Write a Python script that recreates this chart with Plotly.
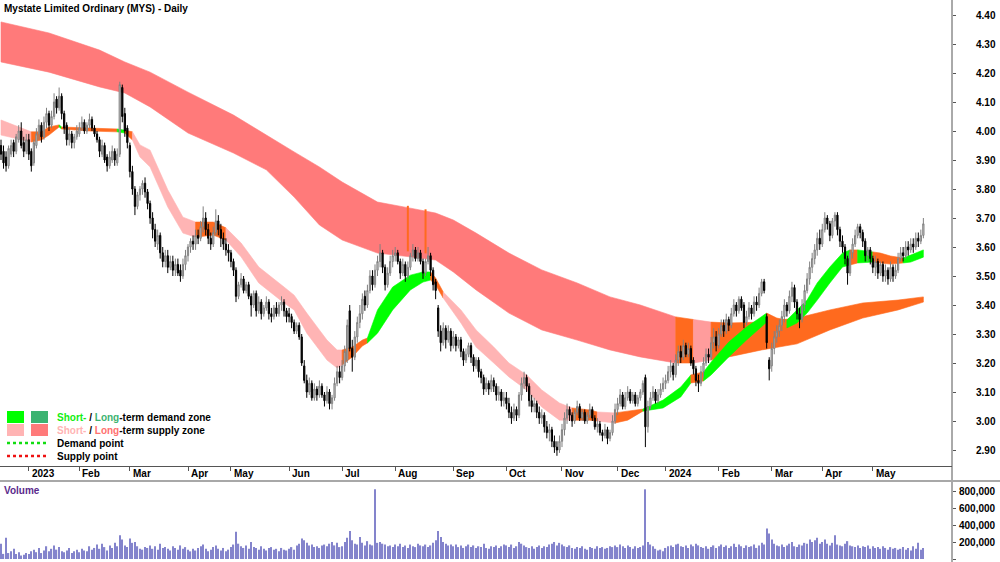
import numpy as np
import pandas as pd
import plotly.graph_objects as go

# ---------------- data ----------------
FIRST_DAY = "2022-12-14"
LAST_DAY = "2024-05-29"
HOLIDAYS = ["2022-12-26", "2022-12-27", "2023-01-02", "2023-01-26", "2023-04-07",
            "2023-04-10", "2023-04-25", "2023-06-12", "2023-12-25", "2023-12-26",
            "2024-01-01", "2024-01-26", "2024-03-29", "2024-04-01", "2024-04-25"]

OPEN = [
    3.95, 3.93, 3.91, 3.88, 3.92, 3.96, 3.93, 3.97, 4.00, 3.96, 3.93,
    3.97, 3.93, 3.89, 3.95, 3.99, 4.02, 3.98, 4.03, 4.06, 4.02, 4.05, 4.11, 4.08, 4.12, 4.06, 4.02, 3.97, 3.99, 3.96, 3.98,
    3.99, 4.01, 4.03, 4.00, 4.02, 4.04, 4.01, 3.99, 3.97, 3.92, 3.95, 3.91, 3.88, 3.90, 3.93, 3.89, 3.92, 4.15, 4.06, 4.01,
    3.95, 3.86, 3.80, 3.74, 3.78, 3.80, 3.82, 3.79, 3.75, 3.70, 3.66, 3.61, 3.64, 3.58, 3.55, 3.57, 3.53, 3.55, 3.52, 3.54, 3.52, 3.50, 3.54,
    3.57, 3.60, 3.62, 3.61, 3.64, 3.63, 3.67, 3.70, 3.66, 3.63, 3.61, 3.65, 3.69, 3.66, 3.63, 3.61, 3.59,
    3.58, 3.55, 3.52, 3.43, 3.47, 3.49, 3.45, 3.47, 3.43, 3.40, 3.44, 3.38, 3.41, 3.37, 3.39, 3.41, 3.37, 3.36, 3.39, 3.37, 3.40, 3.41, 3.38,
    3.37, 3.36, 3.34, 3.31, 3.33, 3.29, 3.19, 3.14, 3.10, 3.13, 3.08, 3.11, 3.09, 3.12, 3.09, 3.07, 3.10, 3.06, 3.08, 3.13, 3.17,
    3.15, 3.19, 3.21, 3.38, 3.25, 3.22, 3.29, 3.34, 3.37, 3.43, 3.40, 3.45, 3.50, 3.47, 3.52, 3.55, 3.58, 3.53, 3.47, 3.51, 3.55,
    3.57, 3.58, 3.55, 3.51, 3.54, 3.50, 3.53, 3.57, 3.59, 3.56, 3.58, 3.55, 3.51, 3.55, 3.57, 3.52, 3.48, 3.39, 3.31, 3.27, 3.32, 3.28, 3.31,
    3.26, 3.29, 3.26, 3.28, 3.24, 3.21, 3.23, 3.26, 3.22, 3.19, 3.21, 3.17, 3.15, 3.11, 3.13, 3.11, 3.14, 3.12, 3.09, 3.10, 3.07,
    3.08, 3.06, 3.03, 3.01, 3.04, 3.02, 3.09, 3.13, 3.15, 3.12, 3.07, 3.05, 3.06, 3.03, 3.01, 3.02, 2.98, 2.96, 2.97, 2.93, 2.91, 2.90,
    2.93, 2.97, 3.01, 3.04, 3.02, 3.00, 3.03, 3.05, 3.01, 3.03, 3.00, 3.02, 3.04, 3.01, 2.98, 2.99, 2.96, 2.95, 2.97, 2.94, 2.96, 3.00,
    3.04, 3.06, 3.09, 3.05, 3.08, 3.10, 3.07, 3.09, 3.06, 3.08, 3.10, 3.15, 2.98, 3.05, 3.08, 3.10, 3.07, 3.09, 3.11,
    3.13, 3.14, 3.17, 3.19, 3.16, 3.21, 3.24, 3.22, 3.26, 3.23, 3.25, 3.21, 3.18, 3.14, 3.13, 3.17, 3.20, 3.23, 3.22, 3.27, 3.29,
    3.26, 3.30, 3.33, 3.31, 3.35, 3.33, 3.37, 3.40, 3.38, 3.42, 3.40, 3.34, 3.36, 3.39, 3.37, 3.41, 3.40, 3.44, 3.48, 3.36, 3.21,
    3.19, 3.25, 3.29, 3.31, 3.33, 3.36, 3.40, 3.38, 3.43, 3.46, 3.41, 3.37, 3.35, 3.40, 3.45, 3.49, 3.53, 3.56, 3.59, 3.63,
    3.61, 3.66, 3.70, 3.68, 3.64, 3.69, 3.71, 3.66, 3.62, 3.60, 3.56, 3.51, 3.58, 3.61, 3.64, 3.67, 3.65, 3.62, 3.57, 3.59,
    3.56, 3.53, 3.55, 3.51, 3.54, 3.50, 3.52, 3.49, 3.53, 3.50, 3.52, 3.56, 3.58, 3.57, 3.60, 3.59, 3.61, 3.60, 3.63, 3.62, 3.64,
]
HIGH = [
    3.97, 3.95, 3.93, 3.95, 3.97, 3.97, 3.99, 4.02, 4.03, 3.98, 3.99,
    3.99, 3.94, 3.97, 4.01, 4.04, 4.03, 4.05, 4.08, 4.07, 4.07, 4.13, 4.12, 4.15, 4.13, 4.07, 4.03, 4.01, 4.00, 3.99, 4.02,
    4.03, 4.05, 4.04, 4.03, 4.06, 4.05, 4.02, 4.00, 3.98, 3.97, 3.96, 3.92, 3.93, 3.95, 3.94, 3.94, 4.17, 4.16, 4.08, 4.02,
    3.96, 3.88, 3.81, 3.79, 3.81, 3.83, 3.84, 3.80, 3.76, 3.72, 3.68, 3.66, 3.65, 3.60, 3.59, 3.59, 3.57, 3.57, 3.56, 3.56, 3.54, 3.56, 3.59,
    3.61, 3.63, 3.64, 3.66, 3.66, 3.69, 3.74, 3.72, 3.68, 3.65, 3.67, 3.73, 3.71, 3.68, 3.65, 3.63, 3.61,
    3.59, 3.56, 3.53, 3.48, 3.51, 3.50, 3.48, 3.48, 3.44, 3.45, 3.45, 3.43, 3.42, 3.40, 3.43, 3.42, 3.39, 3.40, 3.41, 3.41, 3.43, 3.42, 3.39,
    3.39, 3.37, 3.35, 3.34, 3.34, 3.30, 3.21, 3.16, 3.15, 3.14, 3.13, 3.12, 3.14, 3.13, 3.10, 3.12, 3.11, 3.09, 3.15, 3.19, 3.19,
    3.21, 3.26, 3.35, 3.40, 3.28, 3.31, 3.36, 3.40, 3.44, 3.45, 3.47, 3.52, 3.52, 3.54, 3.57, 3.61, 3.59, 3.54, 3.53, 3.57, 3.59,
    3.60, 3.59, 3.56, 3.56, 3.55, 3.55, 3.58, 3.61, 3.60, 3.60, 3.59, 3.56, 3.56, 3.60, 3.58, 3.53, 3.49, 3.40, 3.33, 3.34, 3.33, 3.33, 3.32,
    3.31, 3.30, 3.29, 3.29, 3.25, 3.25, 3.27, 3.27, 3.23, 3.22, 3.22, 3.18, 3.16, 3.15, 3.14, 3.16, 3.15, 3.13, 3.12, 3.11, 3.10,
    3.10, 3.08, 3.05, 3.06, 3.05, 3.10, 3.15, 3.17, 3.16, 3.13, 3.09, 3.08, 3.07, 3.05, 3.04, 3.03, 3.00, 2.99, 2.98, 2.95, 2.93, 2.95,
    2.99, 3.03, 3.06, 3.05, 3.03, 3.04, 3.07, 3.06, 3.04, 3.04, 3.03, 3.06, 3.05, 3.02, 3.01, 3.00, 2.97, 2.99, 2.98, 2.97, 3.02, 3.06,
    3.08, 3.11, 3.10, 3.10, 3.12, 3.11, 3.10, 3.10, 3.09, 3.11, 3.14, 3.16, 3.07, 3.10, 3.12, 3.11, 3.11, 3.13, 3.15,
    3.16, 3.19, 3.21, 3.20, 3.23, 3.26, 3.26, 3.28, 3.27, 3.27, 3.26, 3.22, 3.19, 3.16, 3.19, 3.22, 3.25, 3.25, 3.29, 3.32, 3.31,
    3.32, 3.35, 3.35, 3.37, 3.36, 3.39, 3.42, 3.41, 3.43, 3.43, 3.41, 3.38, 3.41, 3.40, 3.43, 3.43, 3.46, 3.49, 3.49, 3.37, 3.22,
    3.27, 3.31, 3.33, 3.35, 3.38, 3.42, 3.41, 3.45, 3.48, 3.47, 3.42, 3.39, 3.42, 3.47, 3.51, 3.55, 3.58, 3.61, 3.65, 3.66,
    3.68, 3.72, 3.71, 3.69, 3.70, 3.72, 3.72, 3.67, 3.64, 3.61, 3.57, 3.59, 3.63, 3.66, 3.68, 3.68, 3.66, 3.63, 3.60, 3.60,
    3.57, 3.57, 3.56, 3.55, 3.55, 3.54, 3.53, 3.55, 3.54, 3.54, 3.58, 3.60, 3.60, 3.62, 3.62, 3.63, 3.63, 3.65, 3.65, 3.66, 3.70,
]
LOW = [
    3.90, 3.87, 3.86, 3.87, 3.91, 3.91, 3.92, 3.96, 3.94, 3.91, 3.92,
    3.90, 3.86, 3.88, 3.94, 3.97, 3.96, 3.97, 4.01, 4.00, 4.01, 4.04, 4.06, 4.07, 4.04, 3.99, 3.95, 3.95, 3.94, 3.94, 3.97,
    3.98, 4.00, 3.99, 3.99, 4.01, 4.00, 3.98, 3.96, 3.91, 3.91, 3.89, 3.86, 3.87, 3.89, 3.88, 3.88, 3.91, 4.03, 3.98, 3.94,
    3.84, 3.78, 3.71, 3.73, 3.76, 3.78, 3.77, 3.73, 3.68, 3.63, 3.60, 3.59, 3.56, 3.53, 3.53, 3.51, 3.52, 3.50, 3.50, 3.50, 3.48, 3.49, 3.52,
    3.55, 3.58, 3.59, 3.59, 3.61, 3.62, 3.65, 3.64, 3.61, 3.59, 3.60, 3.64, 3.64, 3.60, 3.59, 3.57, 3.55,
    3.53, 3.50, 3.41, 3.42, 3.46, 3.44, 3.44, 3.42, 3.36, 3.39, 3.36, 3.37, 3.35, 3.36, 3.38, 3.35, 3.34, 3.35, 3.36, 3.36, 3.38, 3.36, 3.34,
    3.34, 3.32, 3.30, 3.30, 3.28, 3.19, 3.13, 3.08, 3.09, 3.07, 3.07, 3.07, 3.08, 3.08, 3.05, 3.06, 3.04, 3.04, 3.07, 3.12, 3.13,
    3.14, 3.17, 3.20, 3.24, 3.17, 3.21, 3.27, 3.32, 3.35, 3.38, 3.39, 3.44, 3.45, 3.46, 3.50, 3.53, 3.51, 3.45, 3.46, 3.50, 3.53,
    3.55, 3.54, 3.49, 3.50, 3.48, 3.49, 3.52, 3.55, 3.55, 3.55, 3.54, 3.49, 3.50, 3.54, 3.50, 3.45, 3.42, 3.29, 3.24, 3.26, 3.25, 3.27, 3.24,
    3.25, 3.24, 3.25, 3.22, 3.19, 3.20, 3.22, 3.20, 3.17, 3.18, 3.15, 3.13, 3.09, 3.10, 3.09, 3.10, 3.10, 3.07, 3.07, 3.05, 3.05,
    3.04, 3.01, 2.99, 3.00, 3.00, 3.01, 3.07, 3.11, 3.10, 3.05, 3.03, 3.03, 3.01, 2.99, 2.99, 2.96, 2.94, 2.93, 2.91, 2.89, 2.88, 2.89,
    2.91, 2.95, 2.99, 3.00, 2.98, 2.99, 3.02, 3.00, 3.00, 2.99, 2.99, 3.01, 3.00, 2.97, 2.96, 2.95, 2.93, 2.94, 2.92, 2.93, 2.95, 2.99,
    3.02, 3.05, 3.04, 3.04, 3.07, 3.06, 3.06, 3.05, 3.05, 3.07, 3.09, 2.91, 2.96, 3.04, 3.07, 3.06, 3.06, 3.08, 3.10,
    3.11, 3.13, 3.15, 3.14, 3.15, 3.19, 3.20, 3.21, 3.22, 3.22, 3.19, 3.16, 3.12, 3.10, 3.12, 3.15, 3.19, 3.20, 3.21, 3.25, 3.24,
    3.25, 3.29, 3.29, 3.30, 3.31, 3.32, 3.36, 3.36, 3.37, 3.38, 3.32, 3.33, 3.35, 3.35, 3.36, 3.38, 3.39, 3.43, 3.44, 3.25, 3.14,
    3.17, 3.23, 3.27, 3.29, 3.31, 3.34, 3.36, 3.37, 3.41, 3.39, 3.35, 3.32, 3.34, 3.38, 3.44, 3.47, 3.51, 3.54, 3.57, 3.59,
    3.60, 3.65, 3.66, 3.62, 3.63, 3.67, 3.64, 3.60, 3.58, 3.54, 3.47, 3.50, 3.56, 3.60, 3.63, 3.63, 3.60, 3.55, 3.55, 3.54,
    3.51, 3.50, 3.49, 3.50, 3.48, 3.48, 3.47, 3.48, 3.48, 3.49, 3.51, 3.55, 3.55, 3.56, 3.57, 3.58, 3.58, 3.59, 3.60, 3.61, 3.63,
]
CLOSE = [
    3.92, 3.89, 3.88, 3.94, 3.95, 3.93, 3.98, 4.00, 3.95, 3.93, 3.97,
    3.92, 3.88, 3.96, 3.99, 4.02, 3.98, 4.03, 4.06, 4.02, 4.05, 4.10, 4.08, 4.12, 4.06, 4.01, 3.97, 3.99, 3.96, 3.98, 4.00,
    4.01, 4.03, 4.00, 4.02, 4.04, 4.01, 3.99, 3.97, 3.93, 3.95, 3.90, 3.88, 3.91, 3.93, 3.90, 3.92, 4.16, 4.05, 4.00, 3.96,
    3.86, 3.80, 3.74, 3.78, 3.80, 3.82, 3.79, 3.75, 3.70, 3.66, 3.62, 3.64, 3.58, 3.55, 3.57, 3.53, 3.55, 3.52, 3.54, 3.51, 3.50, 3.54, 3.57,
    3.60, 3.62, 3.61, 3.64, 3.63, 3.67, 3.70, 3.66, 3.63, 3.61, 3.65, 3.69, 3.66, 3.63, 3.61, 3.59, 3.58,
    3.55, 3.52, 3.43, 3.47, 3.49, 3.45, 3.47, 3.43, 3.40, 3.44, 3.38, 3.41, 3.37, 3.39, 3.41, 3.37, 3.36, 3.39, 3.37, 3.40, 3.41, 3.38, 3.36,
    3.36, 3.34, 3.31, 3.33, 3.29, 3.20, 3.14, 3.10, 3.13, 3.08, 3.11, 3.09, 3.12, 3.09, 3.07, 3.10, 3.06, 3.08, 3.13, 3.17, 3.15,
    3.19, 3.24, 3.33, 3.25, 3.22, 3.29, 3.34, 3.37, 3.42, 3.40, 3.45, 3.50, 3.47, 3.52, 3.55, 3.58, 3.53, 3.47, 3.51, 3.55, 3.57,
    3.58, 3.55, 3.51, 3.54, 3.50, 3.53, 3.57, 3.59, 3.56, 3.58, 3.55, 3.51, 3.55, 3.57, 3.52, 3.47, 3.45, 3.31, 3.27, 3.32, 3.28, 3.31, 3.26,
    3.29, 3.26, 3.28, 3.24, 3.21, 3.23, 3.26, 3.22, 3.19, 3.21, 3.17, 3.15, 3.11, 3.13, 3.11, 3.14, 3.12, 3.09, 3.10, 3.07, 3.08,
    3.06, 3.03, 3.01, 3.04, 3.02, 3.09, 3.13, 3.15, 3.12, 3.07, 3.05, 3.06, 3.03, 3.01, 3.02, 2.98, 2.96, 2.97, 2.93, 2.91, 2.90, 2.93,
    2.97, 3.01, 3.04, 3.02, 3.00, 3.03, 3.05, 3.01, 3.03, 3.00, 3.02, 3.04, 3.01, 2.98, 2.99, 2.96, 2.95, 2.97, 2.94, 2.96, 3.00, 3.04,
    3.06, 3.09, 3.05, 3.08, 3.10, 3.07, 3.09, 3.06, 3.08, 3.10, 3.13, 2.98, 3.05, 3.08, 3.10, 3.07, 3.09, 3.11, 3.13,
    3.14, 3.17, 3.19, 3.16, 3.21, 3.24, 3.22, 3.26, 3.23, 3.25, 3.20, 3.18, 3.14, 3.13, 3.17, 3.20, 3.23, 3.22, 3.27, 3.29, 3.26,
    3.30, 3.33, 3.31, 3.35, 3.33, 3.37, 3.40, 3.38, 3.42, 3.39, 3.34, 3.36, 3.39, 3.37, 3.41, 3.40, 3.44, 3.48, 3.45, 3.27, 3.18,
    3.25, 3.29, 3.31, 3.33, 3.36, 3.40, 3.38, 3.43, 3.46, 3.41, 3.37, 3.35, 3.40, 3.45, 3.49, 3.53, 3.56, 3.59, 3.63, 3.61,
    3.66, 3.70, 3.68, 3.64, 3.69, 3.71, 3.66, 3.62, 3.60, 3.56, 3.51, 3.58, 3.61, 3.64, 3.67, 3.65, 3.62, 3.57, 3.59, 3.56,
    3.53, 3.55, 3.51, 3.54, 3.50, 3.52, 3.49, 3.53, 3.50, 3.52, 3.56, 3.58, 3.57, 3.60, 3.59, 3.61, 3.60, 3.63, 3.62, 3.64, 3.68,
]
VOLUME_K = [
    180, 60, 250, 70, 90, 120, 60, 80, 40, 50, 70,
    60, 90, 110, 80, 130, 70, 100, 150, 90, 120, 160, 110, 140, 90, 80, 100, 130, 70, 90, 110,
    80, 120, 100, 90, 150, 110, 130, 170, 120, 180, 140, 100, 160, 130, 190, 150, 280, 230, 160, 140,
    240, 190, 200, 150, 120, 110, 140, 130, 160, 120, 150, 110, 180, 130, 140, 120, 100, 150, 130, 110, 160, 120, 140,
    110, 90, 120, 100, 130, 150, 170, 120, 90, 110, 140, 160, 120, 100, 130, 90, 110,
    140, 170, 320, 180, 150, 130, 160, 120, 200, 140, 130, 110, 150, 120, 100, 130, 140, 110, 120, 90, 130, 110, 100,
    120, 140, 110, 160, 180, 240, 220, 190, 160, 170, 140, 150, 130, 160, 170, 150, 180, 200, 160, 190, 140,
    150, 200, 250, 330, 220, 180, 170, 260, 190, 160, 210, 170, 160, 820, 190, 200, 180, 170, 150, 160, 140,
    170, 150, 180, 140, 160, 130, 170, 150, 140, 180, 160, 150, 170, 140, 160, 190, 220, 330, 260, 200, 180, 160, 170,
    150, 170, 140, 160, 130, 150, 170, 140, 160, 130, 150, 140, 180, 130, 120, 150, 140, 160, 130, 150, 170,
    160, 140, 170, 130, 150, 200, 180, 160, 140, 130, 150, 120, 140, 160, 130, 150, 140, 170, 180, 200, 160, 190,
    170, 150, 140, 160, 130, 120, 140, 130, 150, 120, 110, 140, 130, 120, 150, 130, 140, 120, 130, 150, 140, 160,
    140, 170, 150, 130, 160, 140, 120, 150, 130, 140, 160, 820, 200, 170, 150, 120, 100, 110, 90,
    130, 150, 160, 140, 170, 180, 150, 140, 160, 130, 170, 150, 180, 160, 140, 130, 150, 120, 140, 160, 130,
    150, 170, 140, 160, 130, 150, 180, 140, 170, 150, 130, 160, 140, 150, 170, 130, 160, 190, 170, 360, 300,
    230, 180, 160, 150, 170, 140, 160, 180, 200, 150, 140, 170, 160, 190, 180, 230, 200, 220, 250, 180,
    200, 230, 180, 160, 190, 280, 170, 160, 150, 180, 210, 160, 150, 140, 160, 130, 150, 140, 160, 120,
    150, 130, 140, 120, 150, 130, 110, 140, 120, 130, 110, 120, 140, 110, 130, 100, 150, 120, 190, 110, 130,
]

# short-term zone ribbon (trading-day index, upper, lower)
SHORT_DAY = [0, 12, 16, 19, 23, 24, 35, 46, 49, 52, 55, 59, 66, 72, 77, 84, 89, 95, 102, 112,
             116, 121, 126, 129, 133, 135, 139, 143, 145, 149, 155, 162, 167, 170, 172, 175, 182, 188, 195, 201,
             208, 214, 221, 226, 233, 236, 243, 248, 254, 262, 269, 273, 278, 281, 288, 295, 303, 307, 311, 315,
             319, 323, 328, 333, 336, 339, 345, 348, 352, 357, 360, 365]
SHORT_TOP = [4.038, 3.997, 3.997, 4.014, 4.021, 4.014, 4.010, 4.007, 4.003, 3.997, 3.952, 3.934, 3.797, 3.703, 3.686, 3.686, 3.666, 3.614, 3.531, 3.462,
             3.434, 3.372, 3.314, 3.279, 3.245, 3.245, 3.255, 3.279, 3.286, 3.383, 3.462, 3.503, 3.514, 3.514, 3.493, 3.445, 3.383, 3.314, 3.255, 3.200,
             3.159, 3.107, 3.062, 3.045, 3.038, 3.031, 3.028, 3.034, 3.041, 3.072, 3.117, 3.159, 3.169, 3.203, 3.272, 3.324, 3.372, 3.355, 3.348, 3.383,
             3.417, 3.476, 3.531, 3.579, 3.590, 3.590, 3.583, 3.579, 3.569, 3.562, 3.572, 3.590]
SHORT_BOT = [3.986, 3.962, 3.969, 3.986, 4.014, 4.007, 4.000, 3.997, 3.993, 3.969, 3.910, 3.876, 3.738, 3.648, 3.634, 3.641, 3.624, 3.566, 3.476, 3.407,
             3.383, 3.303, 3.245, 3.210, 3.183, 3.193, 3.221, 3.259, 3.269, 3.303, 3.383, 3.452, 3.479, 3.486, 3.469, 3.424, 3.338, 3.255, 3.200, 3.152,
             3.107, 3.048, 3.003, 3.003, 3.003, 3.000, 2.993, 3.003, 3.034, 3.045, 3.083, 3.131, 3.138, 3.159, 3.221, 3.279, 3.341, 3.321, 3.321, 3.338,
             3.372, 3.417, 3.476, 3.531, 3.538, 3.545, 3.548, 3.545, 3.541, 3.545, 3.548, 3.565]
SHORT_SEGMENTS = [(0, 12, "supply"), (12, 23, "neutral"), (23, 24, "demand"), (24, 46, "neutral"),
                  (46, 49, "demand"), (49, 52, "neutral"), (52, 77, "supply"), (77, 89, "neutral"),
                  (89, 135, "supply"), (135, 145, "neutral"), (145, 170, "demand"), (170, 175, "neutral"),
                  (175, 226, "supply"), (226, 236, "neutral"), (236, 243, "supply"), (243, 254, "neutral"),
                  (254, 273, "demand"), (273, 278, "neutral"), (278, 303, "demand"), (303, 311, "neutral"),
                  (311, 336, "demand"), (336, 339, "neutral"), (339, 345, "demand"), (345, 357, "neutral"),
                  (357, 365, "demand")]

# long-term zone ribbon
LONG_DAY = [0, 19, 39, 49, 59, 74, 92, 105, 116, 126, 135, 149, 162, 172, 179, 188, 201, 214, 228, 241,
            253, 267, 274, 281, 288, 301, 315, 328, 341, 355, 365]
LONG_TOP = [4.376, 4.338, 4.279, 4.238, 4.203, 4.134, 4.055, 3.986, 3.928, 3.876, 3.824, 3.755, 3.734, 3.717, 3.693, 3.648, 3.579, 3.521, 3.476, 3.428,
            3.400, 3.359, 3.350, 3.341, 3.338, 3.341, 3.355, 3.383, 3.407, 3.417, 3.428]
LONG_BOT = [4.238, 4.203, 4.152, 4.131, 4.083, 3.993, 3.924, 3.866, 3.772, 3.676, 3.624, 3.579, 3.566, 3.555, 3.514, 3.452, 3.372, 3.314, 3.279, 3.245,
            3.221, 3.200, 3.200, 3.210, 3.221, 3.245, 3.266, 3.314, 3.355, 3.383, 3.410]
LONG_SEGMENTS = [(0, 267, "supply"), (267, 274, "neutral"), (274, 281, "fading"), (281, 365, "neutral")]
LONG_FLASH_DAY = [161, 168]
LONG_FLASH_TOP = [3.742, 3.730]
LONG_FLASH_BOT = [3.585, 3.578]

MONTH_LABELS = ["2023", "Feb", "Mar", "Apr", "May", "Jun", "Jul", "Aug", "Sep", "Oct", "Nov", "Dec",
                "2024", "Feb", "Mar", "Apr", "May"]
PRICE_TICKS = [2.90, 3.00, 3.10, 3.20, 3.30, 3.40, 3.50, 3.60, 3.70, 3.80, 3.90, 4.00, 4.10, 4.20, 4.30, 4.40]
VOLUME_TICKS = [200000, 400000, 600000, 800000]

# ---------------- styles / layout ----------------
W, H = 1000, 562
PLOT_RIGHT = 952
PRICE_BOTTOM = 466
VOL_TOP = 481
PX_PER_DAY = 2.527
FIRST_X = 1.0
LABEL_RIGHT = 998
FONT = "Liberation Sans, Arial, sans-serif"

SHORT_COLORS = {"supply": "#FFB4B4", "neutral": "#FF6A1E", "demand": "#00FF00"}
LONG_COLORS = {"supply": "#FF7A7A", "neutral": "#FF6A1E", "fading": "#FF9C9C"}


def pxx(x):
    return x / W


def pxy(y):
    return 1 - y / H


dates = pd.bdate_range(FIRST_DAY, LAST_DAY, freq="C", holidays=HOLIDAYS)
n = len(dates)
assert n == len(OPEN) == len(HIGH) == len(LOW) == len(CLOSE) == len(VOLUME_K), (
    n, len(OPEN), len(HIGH), len(LOW), len(CLOSE), len(VOLUME_K))
day = np.arange(n)
periods = dates.to_period("M")
month_starts = [i for i in range(1, n) if periods[i] != periods[i - 1]]

x0 = -FIRST_X / PX_PER_DAY
X_RANGE = [x0, x0 + PLOT_RIGHT / PX_PER_DAY]
ppp = (450 - 15) / 1.5          # pixels per price unit
PRICE_RANGE = [2.90 - (PRICE_BOTTOM - 450) / ppp, 4.40 + 15 / ppp]
vpp = 17.0 / 200000             # pixels per share
VOL_RANGE = [-(H - 559) / vpp, (559 - VOL_TOP) / vpp]

fig = go.Figure()
shapes = []


def ribbon_shapes(days, top, bot, segments, colors):
    for a, b, state in segments:
        idx = [k for k, d in enumerate(days) if a <= d <= b]
        pts = [(days[k], top[k]) for k in idx] + [(days[k], bot[k]) for k in idx[::-1]]
        path = "M " + " L ".join(f"{px},{py}" for px, py in pts) + " Z"
        c = colors[state]
        shapes.append(dict(type="path", path=path, xref="x", yref="y", layer="below",
                           fillcolor=c, line=dict(color=c, width=0.6)))


ribbon_shapes(LONG_DAY, LONG_TOP, LONG_BOT, LONG_SEGMENTS, LONG_COLORS)
for d, t, b in zip(LONG_FLASH_DAY, LONG_FLASH_TOP, LONG_FLASH_BOT):
    shapes.append(dict(type="line", xref="x", yref="y", x0=d, x1=d, y0=b, y1=t, layer="below",
                       line=dict(color=LONG_COLORS["neutral"], width=2)))
ribbon_shapes(SHORT_DAY, SHORT_TOP, SHORT_BOT, SHORT_SEGMENTS, SHORT_COLORS)

fig.add_trace(go.Candlestick(
    x=day, open=OPEN, high=HIGH, low=LOW, close=CLOSE,
    increasing=dict(line=dict(color="#808080", width=1), fillcolor="#D4D4D4"),
    decreasing=dict(line=dict(color="#000000", width=1), fillcolor="#000000"),
    whiskerwidth=0, hoverinfo="skip", xaxis="x", yaxis="y"))

fig.add_trace(go.Bar(x=day, y=[v * 1000 for v in VOLUME_K], width=0.5,
                     marker=dict(color="#8484CC", line=dict(width=0)),
                     hoverinfo="skip", xaxis="x2", yaxis="y2"))

fig.update_layout(
    width=W, height=H, margin=dict(l=0, r=0, t=0, b=0),
    paper_bgcolor="rgba(0,0,0,0)", plot_bgcolor="rgba(0,0,0,0)", showlegend=False,
    font=dict(family=FONT, size=10, color="black"),
    xaxis=dict(domain=[0, pxx(PLOT_RIGHT)], range=X_RANGE, anchor="y",
               tickvals=month_starts, showticklabels=False, ticks="outside", ticklen=4,
               tickcolor="#555555", showline=True, linecolor="#555555", linewidth=1,
               showgrid=False, zeroline=False, rangeslider=dict(visible=False)),
    yaxis=dict(domain=[pxy(PRICE_BOTTOM), 1], range=PRICE_RANGE, side="right", anchor="x",
               tickvals=PRICE_TICKS, ticks="outside", ticklen=3, tickcolor="#555555",
               showticklabels=False, showline=False, showgrid=False, zeroline=False),
    xaxis2=dict(domain=[0, pxx(PLOT_RIGHT)], range=X_RANGE, anchor="y2", showline=False,
                showticklabels=False, ticks="", showgrid=False, zeroline=False),
    yaxis2=dict(domain=[0, pxy(VOL_TOP)], range=VOL_RANGE, side="right", anchor="x2",
                tickvals=[0] + VOLUME_TICKS, ticks="outside", ticklen=3, tickcolor="#555555",
                showticklabels=False, showline=False, showgrid=False, zeroline=False),
)

shapes.append(dict(type="line", xref="paper", yref="paper", x0=pxx(PLOT_RIGHT), x1=pxx(PLOT_RIGHT),
                   y0=0, y1=1, line=dict(color="#555555", width=1)))
shapes.append(dict(type="line", xref="paper", yref="paper", x0=0, x1=1, y0=pxy(VOL_TOP), y1=pxy(VOL_TOP),
                   line=dict(color="#A8A8A8", width=2)))
# legend swatches
legend_rows = [(411, 423, "#00FF00", "#3CB371"), (424, 436, SHORT_COLORS["supply"], LONG_COLORS["supply"])]
for y0, y1, c1, c2 in legend_rows:
    shapes.append(dict(type="rect", xref="paper", yref="paper", x0=pxx(7), x1=pxx(24),
                       y0=pxy(y1), y1=pxy(y0), fillcolor=c1, line=dict(width=0)))
    shapes.append(dict(type="rect", xref="paper", yref="paper", x0=pxx(31), x1=pxx(48),
                       y0=pxy(y1), y1=pxy(y0), fillcolor=c2, line=dict(width=0)))
for yy, c in [(443, "#11DD11"), (456, "#EE1111")]:
    shapes.append(dict(type="line", xref="paper", yref="paper", x0=pxx(7), x1=pxx(48),
                       y0=pxy(yy), y1=pxy(yy), line=dict(color=c, width=2.5, dash="dot")))
fig.update_layout(shapes=shapes)

bold10 = dict(family=FONT, size=10, color="black")
ann = []
ann.append(dict(xref="paper", yref="paper", x=pxx(2), y=pxy(1), xanchor="left", yanchor="top",
                text="<b>Mystate Limited Ordinary (MYS) - Daily</b>", showarrow=False, font=bold10))
ann.append(dict(xref="paper", yref="paper", x=pxx(2), y=pxy(490), xanchor="left", yanchor="middle",
                text="<b>Volume</b>", showarrow=False,
                font=dict(family=FONT, size=10, color="#5A2A8C")))
for i, lbl in zip(month_starts, MONTH_LABELS):
    ann.append(dict(xref="x", yref="paper", x=i, y=pxy(473.5), xanchor="left", yanchor="middle",
                    xshift=1, text=f"<b>{lbl}</b>", showarrow=False, font=bold10))
for v in PRICE_TICKS:
    ann.append(dict(xref="paper", yref="y", x=pxx(LABEL_RIGHT), y=v, xanchor="right", yanchor="middle",
                    text=f"<b>{v:.2f}</b>", showarrow=False, font=bold10))
for v in VOLUME_TICKS:
    ann.append(dict(xref="paper", yref="y2", x=pxx(LABEL_RIGHT), y=v, xanchor="right", yanchor="middle",
                    text=f"<b>{v:,}</b>", showarrow=False, font=bold10))
legend_texts = [
    (417, "<b><span style='color:#11EE11'>Short-</span> / <span style='color:#3CB371'>Long</span>-term demand zone</b>"),
    (430, "<b><span style='color:#FFB4B4'>Short-</span> / <span style='color:#FF7070'>Long</span>-term supply zone</b>"),
    (443, "<b>Demand point</b>"),
    (456, "<b>Supply point</b>"),
]
for yy, t in legend_texts:
    ann.append(dict(xref="paper", yref="paper", x=pxx(55), y=pxy(yy), xanchor="left", yanchor="middle",
                    text=t, showarrow=False, font=bold10))
fig.update_layout(annotations=ann)

fig.write_html("out.html")
